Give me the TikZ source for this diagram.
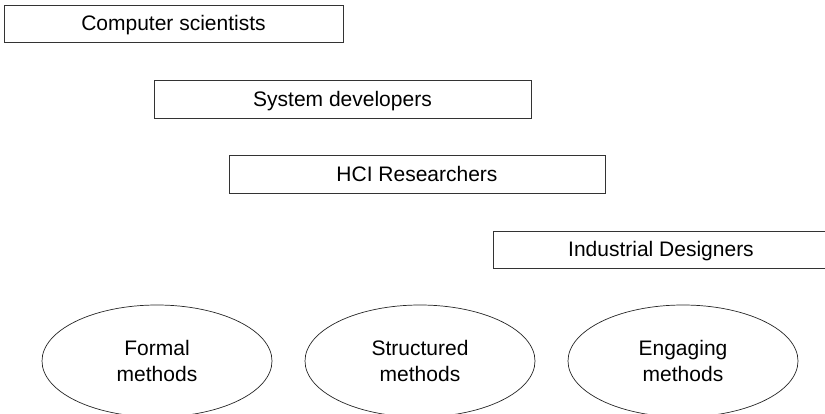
\documentclass[tikz,border=0pt]{standalone}
\usepackage{fontspec}
\setmainfont{Liberation Sans}
\usetikzlibrary{shapes.geometric}
\begin{document}
\begin{tikzpicture}[x=1pt,y=-1pt,
  lbl/.style={font=\fontsize{21}{25.5}\selectfont, text=black},
  rolebox/.style={lbl, draw=black!80, line width=0.9pt, inner sep=0pt, rectangle,
    text height=15pt, text depth=0pt},
  methodell/.style={lbl, draw=black!85, line width=0.7pt, ellipse, inner sep=0pt,
    minimum width=230pt, minimum height=112pt, align=center}]
\useasboundingbox (0,0) rectangle (825,414);
\node[rolebox, minimum width=339pt, minimum height=37pt] (cs) at (173.5,23.5) {Computer scientists};
\node[rolebox, minimum width=377pt, minimum height=38pt] (sd) at (342.5,99) {System developers};
\node[rolebox, minimum width=376pt, minimum height=38pt] (hci) at (417,174) {HCI Researchers};
\node[rolebox, minimum width=336pt, minimum height=37pt] (id) at (661,249.5) {Industrial Designers};
\node[methodell] (fm) at (157,361) {Formal\\methods};
\node[methodell] (sm) at (420,361) {Structured\\methods};
\node[methodell] (em) at (683,361) {Engaging\\methods};
\end{tikzpicture}
\end{document}
